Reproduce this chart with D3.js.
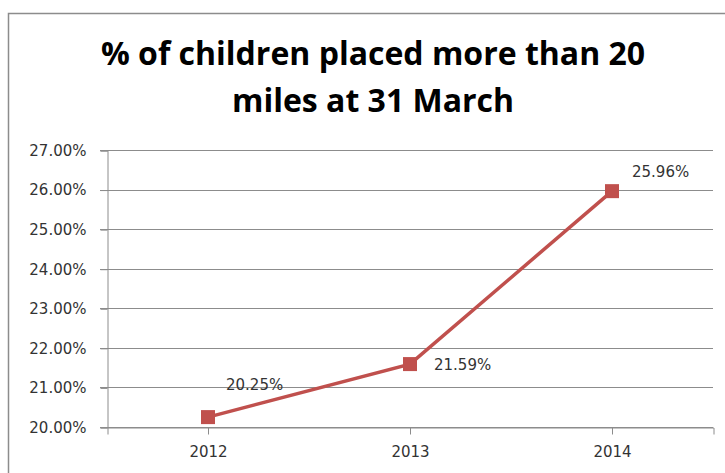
<!DOCTYPE html>
<html>
<head>
<meta charset="utf-8">
<script src="https://cdn.jsdelivr.net/npm/d3@7"></script>
<style>
  body { margin: 0; background: #fff; }
</style>
</head>
<body>
<div id="chart"></div>
<script>
// data
var years = ["2012", "2013", "2014"];
var values = [0.2025, 0.2159, 0.2596];
var yTicks = [0.20, 0.21, 0.22, 0.23, 0.24, 0.25, 0.26, 0.27];
var titleLines = ["% of children placed more than 20", "miles at 31 March"];

var width = 725, height = 473;
var plotLeft = 107, plotRight = 713, plotTop = 150, plotBottom = 427;
var red = "#C0504D";
var grid = "#8c8c8c";

var svg = d3.select("#chart").append("svg")
  .attr("width", width)
  .attr("height", height);

// 外框
svg.append("rect")
  .attr("x", 8.5).attr("y", 13.5)
  .attr("width", 760).attr("height", 500)
  .attr("fill", "none")
  .attr("stroke", "#8c8c8c")
  .attr("stroke-width", 1.5);

// 标题
var titleY = [65, 112];
svg.selectAll("text.title").data(titleLines).enter()
  .append("text")
  .attr("class", "title")
  .attr("x", 373)
  .attr("y", function(d, i) { return titleY[i]; })
  .attr("text-anchor", "middle")
  .attr("font-family", "'Open Sans', Lato, sans-serif")
  .attr("font-weight", "bold")
  .attr("font-size", "32px")
  .attr("fill", "#000")
  .text(function(d) { return d; });

var x = d3.scaleBand().domain(years).range([plotLeft, plotRight]).padding(0);
var y = d3.scaleLinear().domain([0.20, 0.27]).range([plotBottom, plotTop]);

// 网格
svg.append("g").selectAll("line").data(yTicks).enter()
  .append("line")
  .attr("x1", plotLeft - 7).attr("x2", plotRight)
  .attr("y1", function(d) { return Math.round(y(d)) + 0.5; })
  .attr("y2", function(d) { return Math.round(y(d)) + 0.5; })
  .attr("stroke", grid)
  .attr("stroke-width", 1);

// y轴
var yAxis = svg.append("g")
  .attr("transform", "translate(" + (plotLeft + 0.5) + ",0.5)")
  .call(d3.axisLeft(y).tickValues(yTicks).tickFormat(d3.format(".2%")).tickSize(7).tickPadding(14));
yAxis.selectAll("path, line").attr("stroke", grid);
yAxis.selectAll("text")
  .attr("font-family", "'DejaVu Sans', sans-serif")
  .attr("font-size", "15px")
  .attr("fill", "#333");

// x轴
var xAxis = svg.append("g")
  .attr("transform", "translate(0.5," + (plotBottom + 0.5) + ")")
  .call(d3.axisBottom(x).tickSize(7).tickSizeOuter(7).tickPadding(12));
xAxis.selectAll("path, line").attr("stroke", grid);
xAxis.selectAll("text")
  .attr("font-family", "'DejaVu Sans', sans-serif")
  .attr("font-size", "15px")
  .attr("fill", "#333");

// 折线
var cx = function(d, i) { return x(years[i]) + x.bandwidth() / 2; };
var line = d3.line()
  .x(function(d, i) { return cx(d, i); })
  .y(function(d) { return y(d); });
svg.append("path")
  .datum(values)
  .attr("d", line)
  .attr("fill", "none")
  .attr("stroke", red)
  .attr("stroke-width", 3.5);

// 点
var ms = 14;
svg.append("g").selectAll("rect").data(values).enter()
  .append("rect")
  .attr("x", function(d, i) { return cx(d, i) - ms / 2; })
  .attr("y", function(d) { return y(d) - ms / 2; })
  .attr("width", ms).attr("height", ms)
  .attr("fill", red);

// 标签
var labelDx = [18, 24, 20];
var labelDy = [-27, 6, -14];
svg.append("g").selectAll("text").data(values).enter()
  .append("text")
  .attr("x", function(d, i) { return cx(d, i) + labelDx[i]; })
  .attr("y", function(d, i) { return y(d) + labelDy[i]; })
  .attr("font-family", "'DejaVu Sans', sans-serif")
  .attr("font-size", "15px")
  .attr("fill", "#333")
  .text(function(d) { return d3.format(".2%")(d); });
</script>
</body>
</html>
